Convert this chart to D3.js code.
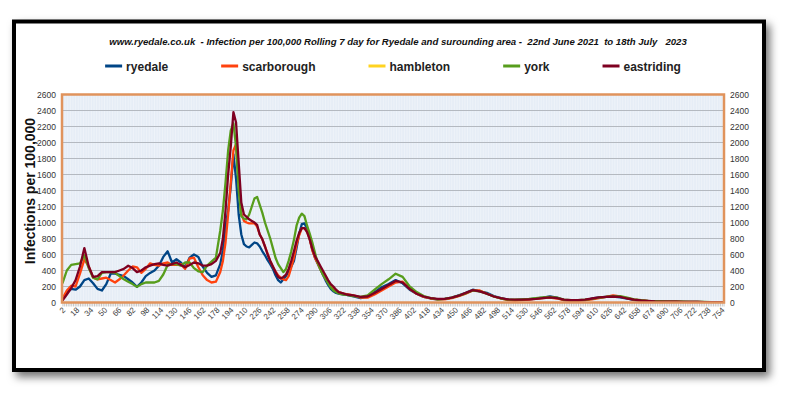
<!doctype html>
<html>
<head>
    <meta charset="utf-8">
    <title>Ryedale infection rate</title>
    <script src="https://cdn.jsdelivr.net/npm/d3@7"></script>
    <style>
        html, body {
            margin: 0px;
            padding: 0px;
            background: #fff;
        }
        svg {
            display: block;
            font-family: "Liberation Sans", Arial, sans-serif;
        }
    </style>
</head>
<body>
<svg id="chart" width="789" height="393"></svg>
<script>
    // day number of each reading (day 1 = 22nd June 2021)
    var days = [1, 6, 11, 16, 21, 26, 31, 36, 41, 46, 51, 56, 61, 66, 71, 76, 81, 86, 91, 96,
        101, 106, 111, 116, 121, 126, 131, 136, 141, 146, 151, 156, 161, 166, 171, 176, 181,
        184, 187, 190, 193, 196, 199, 202, 205, 208, 211, 214, 217, 220, 223, 226, 229, 232, 235, 238, 241,
        244, 247, 250, 253, 256, 259, 262, 265, 268, 271, 274, 277, 280, 283, 286, 289, 292, 295, 298, 301,
        304, 307, 310, 313, 316, 319, 322, 325,
        333, 341, 349, 357, 365, 373, 381, 389, 397, 405, 413, 421, 429, 437, 445, 453, 461, 469, 477, 485,
        493, 501, 509, 517, 525, 533, 541, 549, 557, 565, 573, 581, 589, 597, 605, 613, 621, 629, 637, 645,
        653, 661, 669, 677, 685, 693, 701, 709, 717, 725, 733, 741, 749, 755];

    var ryedale = [50, 120, 170, 160, 200, 280, 300, 240, 170, 150, 230, 360, 360, 345, 330, 290, 250, 195, 250, 330,
        370, 400, 460, 570, 640, 500, 540, 500, 440, 560, 600, 570, 450, 370, 320, 340, 480,
        650, 950, 1150, 1450, 1850, 1550, 1100, 850, 730, 700, 690, 720, 750, 740, 700, 640, 590, 530, 480, 420,
        340, 280, 250, 290, 330, 390, 450, 520, 680, 860, 980, 990, 920, 800, 660, 560, 490, 420, 350, 280,
        220, 170, 140, 120, 110, 105, 100, 95,
        75, 55, 70, 130, 190, 230, 280, 240, 160, 110, 70, 50, 40, 45, 60, 90, 120, 160, 140, 120,
        80, 55, 35, 30, 35, 40, 50, 60, 75, 60, 30, 25, 25, 30, 50, 65, 70, 75, 65, 50,
        30, 20, 15, 15, 12, 10, 10, 8, 8, 6, 5, 5, 4, 4];

    var scarborough = [50, 150, 210, 200, 360, 540, 450, 310, 290, 300, 310, 280, 250, 290, 340, 400, 450, 440, 370, 420,
        490, 470, 460, 490, 500, 470, 470, 480, 420, 550, 560, 440, 340, 280, 250, 260, 380,
        520, 750, 1100, 1500, 1900, 1980, 1500, 1110, 1020, 1000, 990, 990, 990, 950, 850, 790, 700, 610, 520, 450,
        390, 340, 310, 290, 280, 330, 440, 560, 720, 840, 930, 930, 890, 790, 650, 560, 490, 420, 360, 300,
        250, 210, 180, 150, 130, 120, 110, 105,
        90, 60, 60, 100, 150, 200, 250, 260, 170, 110, 70, 50, 40, 40, 55, 80, 110, 150, 150, 110,
        75, 50, 30, 25, 30, 35, 45, 55, 60, 50, 30, 25, 25, 30, 40, 55, 70, 90, 75, 55,
        35, 25, 18, 15, 12, 10, 10, 8, 8, 6, 5, 5, 4, 4];

    // no hambleton figures appear on the chart
    var hambleton = [];

    var york = [240, 400, 470, 480, 490, 590, 430, 310, 290, 370, 380, 380, 370, 330, 290, 260, 230, 195, 230, 250,
        250, 250, 270, 350, 470, 480, 480, 460, 500, 500, 430, 390, 380, 460, 510, 560, 900,
        1150, 1500, 1900, 2150, 2240, 1950, 1400, 1080, 1050, 1040, 1100, 1200, 1300, 1320, 1220, 1120, 1000, 900, 800, 680,
        560, 480, 430, 380, 420, 520, 640, 780, 960, 1060, 1110, 1080, 960, 860, 750, 620, 500, 420, 350, 300,
        240, 190, 150, 130, 115, 105, 100, 95,
        80, 70, 90, 160, 230, 290, 360, 320, 200, 130, 80, 55, 40, 45, 60, 85, 115, 150, 140, 110,
        75, 50, 35, 35, 40, 45, 55, 65, 70, 60, 35, 30, 30, 35, 45, 60, 70, 80, 80, 60,
        40, 30, 20, 18, 15, 12, 10, 10, 8, 8, 6, 5, 5, 5];

    var eastriding = [25, 100, 180, 280, 450, 680, 450, 320, 330, 380, 380, 380, 380, 400, 420, 460, 430, 380, 400, 440,
        460, 480, 490, 470, 460, 480, 500, 470, 440, 470, 500, 490, 460, 460, 480, 520, 620,
        800, 1150, 1600, 1950, 2380, 2250, 1750, 1250, 1100, 1070, 1040, 1020, 1000, 970, 850, 790, 700, 600, 520, 450,
        380, 320, 300, 320, 350, 420, 520, 640, 770, 870, 930, 930, 880, 790, 670, 580, 520, 460, 400, 340,
        280, 230, 200, 160, 130, 120, 110, 100,
        90, 70, 75, 120, 170, 220, 270, 250, 170, 110, 75, 55, 45, 45, 60, 85, 120, 155, 140, 110,
        75, 55, 40, 35, 35, 40, 45, 55, 65, 55, 35, 30, 30, 35, 50, 65, 70, 75, 70, 50,
        35, 25, 20, 15, 12, 10, 10, 8, 8, 6, 5, 5, 4, 4];

    var seriesNames = ['ryedale', 'scarborough', 'hambleton', 'york', 'eastriding'];
    var seriesValues = [ryedale, scarborough, hambleton, york, eastriding];
    var seriesColours = ['#004586', '#ff420e', '#ffd320', '#579d1c', '#7e0021'];

    var yTickLabels = [0, 200, 400, 600, 800, 1000, 1200, 1400, 1600, 1800, 2000, 2200, 2400, 2600];
    var xTickLabels = [2, 18, 34, 50, 66, 82, 98, 114, 130, 146, 162, 178, 194, 210, 226, 242, 258, 274, 290,
        306, 322, 338, 354, 370, 386, 402, 418, 434, 450, 466, 482, 498, 514, 530, 546, 562, 578, 594,
        610, 626, 642, 658, 674, 690, 706, 722, 738, 754];

    var titleText = 'www.ryedale.co.uk  - Infection per 100,000 Rolling 7 day for Ryedale and surounding area -  22nd June 2021  to 18th July   2023';

    var svg = d3.select('#chart');
    var plot = {left: 62, right: 724, top: 94.5, bottom: 302.5};

    var xScale = d3.scaleLinear().domain([0.5, 755.5]).range([plot.left, plot.right]);
    var yScale = d3.scaleLinear().domain([0, 2600]).range([plot.bottom, plot.top]);

    // outer frame with shadow
    var defs = svg.append('defs');
    var shadow = defs.append('filter').attr('id', 'shadow')
        .attr('x', '-5%').attr('y', '-5%').attr('width', '112%').attr('height', '115%');
    shadow.append('feDropShadow')
        .attr('dx', 4).attr('dy', 5).attr('stdDeviation', 4)
        .attr('flood-color', '#000').attr('flood-opacity', 0.55);
    defs.append('clipPath').attr('id', 'clip')
        .append('rect')
        .attr('x', plot.left).attr('y', plot.top - 2)
        .attr('width', plot.right - plot.left).attr('height', plot.bottom - plot.top + 2);

    svg.append('rect')
        .attr('x', 14).attr('y', 21.5).attr('width', 750).attr('height', 348.5)
        .attr('fill', '#fff').attr('stroke', '#000').attr('stroke-width', 4)
        .attr('filter', 'url(#shadow)');

    // plot background
    svg.append('rect')
        .attr('x', plot.left).attr('y', plot.top)
        .attr('width', plot.right - plot.left).attr('height', plot.bottom - plot.top)
        .attr('fill', '#e6edf6');

    // dense vertical grid
    svg.append('g')
        .selectAll('line')
        .data(d3.range(1, 756, 3))
        .enter().append('line')
        .attr('x1', function(d) { return xScale(d); })
        .attr('x2', function(d) { return xScale(d); })
        .attr('y1', plot.top).attr('y2', plot.bottom)
        .attr('stroke', '#ffffff').attr('stroke-opacity', 0.55).attr('stroke-width', 0.6);

    // horizontal grid
    svg.append('g')
        .selectAll('line')
        .data(yTickLabels)
        .enter().append('line')
        .attr('x1', plot.left).attr('x2', plot.right)
        .attr('y1', function(d) { return yScale(d); })
        .attr('y2', function(d) { return yScale(d); })
        .attr('stroke', '#b4b9c0').attr('stroke-width', 1);

    // minor x ticks under the plot
    svg.append('g')
        .attr('transform', 'translate(0,' + plot.bottom + ')')
        .call(d3.axisBottom(xScale).tickValues(d3.range(1, 756, 2)).tickSize(4).tickFormat(''))
        .call(function(g) {
            g.select('.domain').remove();
            g.selectAll('line').attr('stroke', '#a0a0a0').attr('stroke-width', 0.6);
        });

    // series lines
    var line = d3.line()
        .x(function(d) { return xScale(d[0]); })
        .y(function(d) { return yScale(d[1]); });

    var lineGroup = svg.append('g').attr('clip-path', 'url(#clip)');
    seriesValues.forEach(function(values, i) {
        var points = values.map(function(v, j) { return [days[j], v]; });
        if (points.length === 0) return;
        lineGroup.append('path')
            .datum(points)
            .attr('fill', 'none')
            .attr('stroke', seriesColours[i])
            .attr('stroke-width', 2.3)
            .attr('stroke-linejoin', 'round')
            .attr('d', line);
    });

    // plot border
    svg.append('rect')
        .attr('x', plot.left).attr('y', plot.top)
        .attr('width', plot.right - plot.left).attr('height', plot.bottom - plot.top)
        .attr('fill', 'none').attr('stroke', '#e0935c').attr('stroke-width', 2.5);

    // y axes
    var leftAxis = svg.append('g')
        .attr('transform', 'translate(' + plot.left + ',0)')
        .call(d3.axisLeft(yScale).tickValues(yTickLabels).tickSize(0).tickPadding(6).tickFormat(function(d) { return d; }));
    var rightAxis = svg.append('g')
        .attr('transform', 'translate(' + plot.right + ',0)')
        .call(d3.axisRight(yScale).tickValues(yTickLabels).tickSize(0).tickPadding(6).tickFormat(function(d) { return d; }));
    [leftAxis, rightAxis].forEach(function(g) {
        g.select('.domain').remove();
        g.selectAll('text')
            .attr('font-family', '"Liberation Sans", Arial, sans-serif')
            .attr('font-size', 8.5).attr('fill', '#333');
    });

    // x axis labels
    var xAxis = svg.append('g')
        .attr('transform', 'translate(0,' + plot.bottom + ')')
        .call(d3.axisBottom(xScale).tickValues(xTickLabels).tickSize(0).tickFormat(function(d) { return d; }));
    xAxis.select('.domain').remove();
    xAxis.selectAll('text')
        .attr('font-family', '"Liberation Sans", Arial, sans-serif')
        .attr('font-size', 8).attr('fill', '#444')
        .attr('text-anchor', 'end')
        .attr('dy', null).attr('y', 0)
        .attr('transform', 'translate(2,8) rotate(-45)');

    // y axis title
    svg.append('text')
        .attr('transform', 'translate(35,191) rotate(-90)')
        .attr('text-anchor', 'middle')
        .attr('font-size', 14).attr('font-weight', 'bold').attr('fill', '#111')
        .text('Infections per 100,000');

    // title
    svg.append('text')
        .attr('x', 398).attr('y', 45)
        .attr('text-anchor', 'middle')
        .style('white-space', 'pre')
        .attr('font-size', 9.6).attr('font-weight', 'bold').attr('font-style', 'italic').attr('fill', '#111')
        .text(titleText);

    // legend
    var legend = svg.append('g');
    var items = legend.selectAll('g.item')
        .data(seriesNames)
        .enter().append('g').attr('class', 'item');
    items.append('line')
        .attr('x1', 0).attr('x2', 17).attr('y1', 0).attr('y2', 0)
        .attr('stroke', function(d, i) { return seriesColours[i]; })
        .attr('stroke-width', 3);
    items.append('text')
        .attr('x', 21).attr('y', 4.5)
        .attr('font-size', 12).attr('font-weight', 'bold').attr('fill', '#222')
        .text(function(d) { return d; });

    var offset = 0;
    var widths = [];
    items.each(function() {
        widths.push(21 + d3.select(this).select('text').node().getComputedTextLength());
    });
    var gap = 53;
    var total = d3.sum(widths) + gap * (widths.length - 1);
    var startX = 393 - total / 2;
    items.attr('transform', function(d, i) {
        var x = startX + offset;
        offset += widths[i] + gap;
        return 'translate(' + x + ',66)';
    });
</script>
</body>
</html>
